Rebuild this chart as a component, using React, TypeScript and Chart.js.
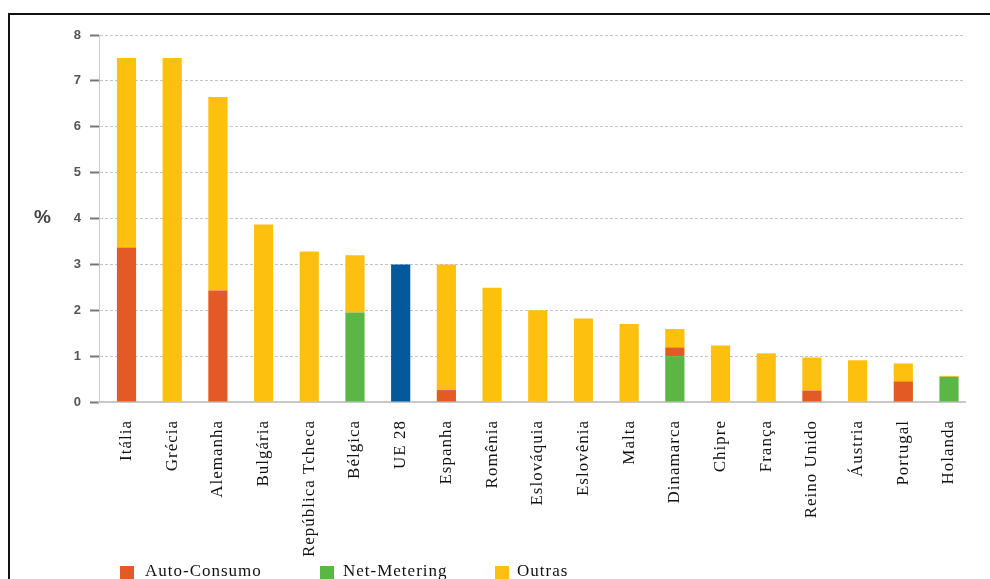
import React, { useEffect, useRef } from "react";
import { Chart, registerables } from "chart.js";

Chart.register(...registerables);

const countries = [
  "Itália", "Grécia", "Alemanha", "Bulgária", "República Tcheca", "Bélgica", "UE 28",
  "Espanha", "Romênia", "Eslováquia", "Eslovênia", "Malta", "Dinamarca", "Chipre",
  "França", "Reino Unido", "Áustria", "Portugal", "Holanda",
];
const netMetering = [0, 0, 0, 0, 0, 1.95, 0, 0, 0, 0, 0, 0, 1.0, 0, 0, 0, 0, 0, 0.55];
const autoConsumo = [3.37, 0, 2.43, 0, 0, 0, 0, 0.26, 0, 0, 0, 0, 0.19, 0, 0, 0.25, 0, 0.45, 0];
const outras = [4.13, 7.5, 4.22, 3.87, 3.28, 1.25, 0, 2.74, 2.49, 2.0, 1.82, 1.7, 0.4, 1.23, 1.06, 0.72, 0.91, 0.39, 0.02];
const ue28 = [0, 0, 0, 0, 0, 0, 3.0, 0, 0, 0, 0, 0, 0, 0, 0, 0, 0, 0, 0];
const yTicks = [0, 1, 2, 3, 4, 5, 6, 7, 8];

const RED = "#E35A24";
const GREEN = "#5CB646";
const YELLOW = "#FEC00E";
const BLUE = "#03599C";

const legendItems = [
  { label: "Auto-Consumo", color: RED, box: 120, text: 145 },
  { label: "Net-Metering", color: GREEN, box: 320, text: 343 },
  { label: "Outras", color: YELLOW, box: 495, text: 517 },
];

const toXY = (arr: number[]) => arr.map((v, i) => ({ x: i, y: v }));

export default function App() {
  const ref = useRef<HTMLCanvasElement | null>(null);
  useEffect(() => {
    if (!ref.current) return;
    const spacingPlugin = {
      id: "spacing",
      beforeDraw: (chart: any) => {
        try { chart.ctx.letterSpacing = "1px"; } catch (e) {}
      },
    };
    const chart = new Chart(ref.current, {
      type: "bar",
      data: {
        datasets: [
          { label: "Net-Metering", data: toXY(netMetering), backgroundColor: GREEN },
          { label: "Auto-Consumo", data: toXY(autoConsumo), backgroundColor: RED },
          { label: "Outras", data: toXY(outras), backgroundColor: YELLOW },
          { label: "UE 28", data: toXY(ue28), backgroundColor: BLUE },
        ],
      },
      plugins: [spacingPlugin],
      options: {
        animation: false,
        responsive: false,
        events: [],
        layout: { padding: { left: 0, top: 35, right: 25, bottom: 0 } },
        datasets: { bar: { barPercentage: 0.42, categoryPercentage: 1, borderWidth: 0 } },
        plugins: { legend: { display: false }, tooltip: { enabled: false } },
        scales: {
          x: {
            type: "linear",
            stacked: true,
            offset: false,
            min: -0.602,
            max: 18.35,
            grid: { display: false, drawTicks: false, offset: false },
            border: { display: true, color: "#c8c8c8", width: 2 },
            afterBuildTicks: (s: any) => {
              s.ticks = countries.map((_, i) => ({ value: i }));
            },
            afterFit: (s: any) => {
              s.height = 177;
            },
            ticks: {
              autoSkip: false,
              minRotation: 90,
              maxRotation: 90,
              padding: 18,
              color: "#111",
              font: { family: '"Liberation Serif", serif', size: 17 },
              callback: (v: any) => countries[Math.round(Number(v))] ?? "",
            },
          },
          y: {
            stacked: true,
            min: 0,
            max: 8,
            afterBuildTicks: (s: any) => {
              s.ticks = yTicks.map((v) => ({ value: v }));
            },
            afterFit: (s: any) => {
              s.width = 99;
            },
            grid: {
              color: "#c4c4c4",
              lineWidth: 1,
              tickLength: 9,
              tickColor: "#777",
              tickWidth: 2,
              tickBorderDash: [],
            },
            border: { display: true, color: "#cccccc", width: 1, dash: [3, 2] },
            ticks: {
              padding: 8,
              color: "#555",
              font: { family: '"Liberation Sans", sans-serif', size: 13, weight: "bold" },
            },
          },
        },
      },
    } as any);
    return () => chart.destroy();
  }, []);

  return (
    <div style={{ position: "fixed", left: 0, top: 0, width: 990, height: 579, overflow: "hidden", background: "#fff" }}>
      <div
        style={{
          position: "absolute",
          left: 8,
          top: 13,
          width: 1100,
          height: 700,
          border: "2px solid #111",
          boxSizing: "border-box",
        }}
      />
      <canvas ref={ref} width={990} height={579} style={{ position: "absolute", left: 0, top: 0 }} />
      <div
        style={{
          position: "absolute",
          left: 34,
          top: 207,
          fontFamily: '"Liberation Sans", sans-serif',
          fontSize: 19,
          fontWeight: "bold",
          color: "#444",
          lineHeight: "20px",
        }}
      >
        %
      </div>
      {legendItems.map((it) => (
        <React.Fragment key={it.label}>
          <div
            style={{ position: "absolute", left: it.box, top: 566, width: 14, height: 14, background: it.color }}
          />
          <div
            style={{
              position: "absolute",
              left: it.text,
              top: 561,
              fontFamily: '"Liberation Serif", serif',
              fontSize: 17,
              letterSpacing: "1px",
              lineHeight: "20px",
              color: "#111",
              whiteSpace: "nowrap",
            }}
          >
            {it.label}
          </div>
        </React.Fragment>
      ))}
    </div>
  );
}
